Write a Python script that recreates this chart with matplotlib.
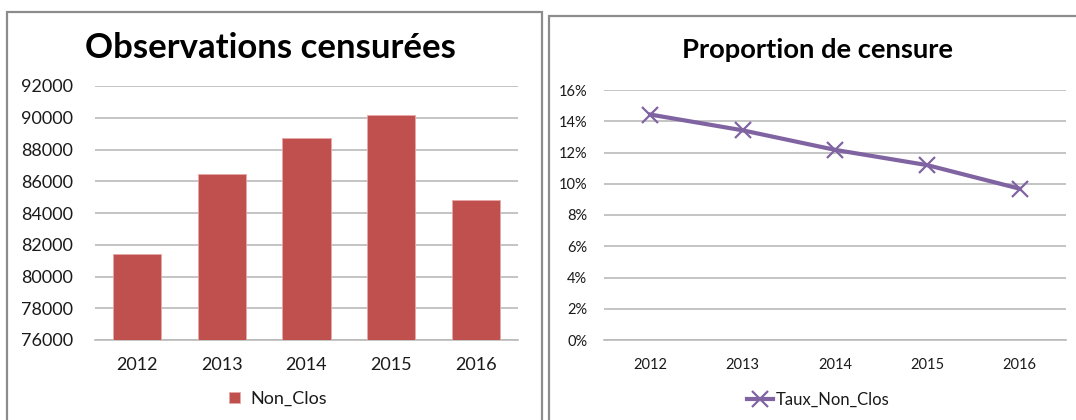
import matplotlib
matplotlib.use("Agg")
import matplotlib.pyplot as plt
from matplotlib.patches import Rectangle
from matplotlib.ticker import FuncFormatter

# ---- data ----
years = ["2012", "2013", "2014", "2015", "2016"]
non_clos = [81400, 86450, 88700, 90150, 84800]
taux_non_clos = [0.1443, 0.1342, 0.1217, 0.1119, 0.0968]
left_yticks = [76000, 78000, 80000, 82000, 84000, 86000, 88000, 90000, 92000]
right_yticks = [0.0, 0.02, 0.04, 0.06, 0.08, 0.10, 0.12, 0.14, 0.16]

plt.rcParams['font.family'] = ['Lato', 'DejaVu Sans']

W, H = 1076, 420
fig = plt.figure(figsize=(W / 100, H / 100), dpi=100)
fig.patch.set_facecolor('white')

def fx(px):
    return px / W

def fy(py):
    return 1 - py / H

BAR = '#C0504D'
LINE = '#8064A2'
GRID = '#BABABA'
FRAME = '#8C8C8C'
TXT = '#1a1a1a'

# chart frames
fig.add_artist(Rectangle((fx(7), fy(440)), fx(542 - 7), (440 - 12) / H,
                         transform=fig.transFigure, fill=False, ec=FRAME, lw=1.6))
fig.add_artist(Rectangle((fx(549), fy(440)), fx(1100 - 549), (440 - 16) / H,
                         transform=fig.transFigure, fill=False, ec=FRAME, lw=1.6))

# ---- left chart ----
ax1 = fig.add_axes([fx(95), fy(340), fx(518 - 95), (340 - 86) / H])
x = range(len(years))
ax1.bar(x, [v - left_yticks[0] for v in non_clos], bottom=left_yticks[0], width=0.57,
        color=BAR, edgecolor='#E8A9A7', linewidth=0.6, label='Non_Clos', zorder=3)
ax1.set_ylim(left_yticks[0], left_yticks[-1])
ax1.set_xlim(-0.5, len(years) - 0.5)
ax1.set_yticks(left_yticks)
ax1.set_yticklabels([str(v) for v in left_yticks])
ax1.set_xticks(list(x))
ax1.set_xticklabels(years)
ax1.yaxis.grid(True, color=GRID, lw=1.2, zorder=0)
ax1.set_axisbelow(True)
for s in ['top', 'right', 'left']:
    ax1.spines[s].set_visible(False)
ax1.spines['bottom'].set_color(GRID)
ax1.spines['bottom'].set_linewidth(1.2)
ax1.tick_params(axis='both', length=0, labelsize=13, colors=TXT)
ax1.tick_params(axis='y', pad=16)
ax1.tick_params(axis='x', pad=12)
fig.text(fx(270), fy(48), 'Observations censurées', ha='center', va='center',
         fontsize=25, fontweight='bold', color='black')
ax1.legend(loc='center', bbox_to_anchor=(fx(278), fy(399)), bbox_transform=fig.transFigure,
           frameon=False, fontsize=13, handlelength=0.6, handleheight=0.6,
           handletextpad=0.55, labelcolor=TXT)

# ---- right chart ----
ax2 = fig.add_axes([fx(604), fy(340), fx(1066 - 604), (340 - 90) / H])
ax2.plot(list(x), taux_non_clos, color=LINE, lw=3, marker='x', markersize=11,
         markeredgewidth=1.6, label='Taux_Non_Clos', zorder=3)
ax2.set_ylim(right_yticks[0], right_yticks[-1])
ax2.set_xlim(-0.5, len(years) - 0.5)
ax2.set_yticks(right_yticks)
ax2.yaxis.set_major_formatter(FuncFormatter(lambda v, p: f"{v * 100:.0f}%"))
ax2.set_xticks(list(x))
ax2.set_xticklabels(years)
ax2.yaxis.grid(True, color=GRID, lw=1.2, zorder=0)
ax2.set_axisbelow(True)
for s in ['top', 'right', 'left']:
    ax2.spines[s].set_visible(False)
ax2.spines['bottom'].set_color(GRID)
ax2.spines['bottom'].set_linewidth(1.2)
ax2.tick_params(axis='both', length=0, labelsize=10.5, colors=TXT)
ax2.tick_params(axis='y', pad=12)
ax2.tick_params(axis='x', pad=13)
fig.text(fx(817), fy(50), 'Proportion de censure', ha='center', va='center',
         fontsize=19.7, fontweight='bold', color='black')
ax2.legend(loc='center', bbox_to_anchor=(fx(818), fy(400)), bbox_transform=fig.transFigure,
           frameon=False, fontsize=12, handlelength=1.6, handletextpad=0.15,
           labelcolor=TXT)

fig.savefig('out.png', dpi=100, facecolor='white')
